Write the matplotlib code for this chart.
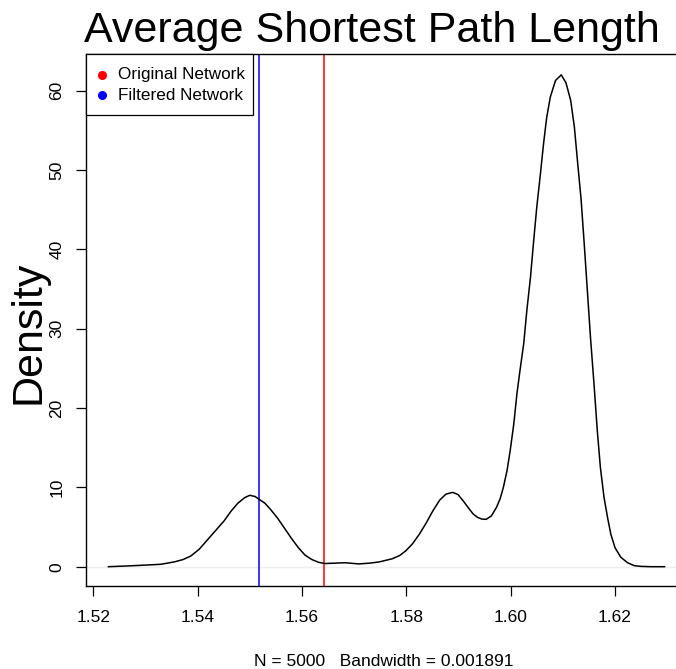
import matplotlib
matplotlib.use('Agg')
import matplotlib.pyplot as plt

plt.rcParams['font.family'] = ['Liberation Sans', 'DejaVu Sans']

# Density estimate (value, density)
path_length = [1.5229, 1.5260, 1.5290, 1.5329, 1.5355, 1.5372, 1.5387, 1.5403,
               1.5419, 1.5435, 1.5451, 1.5464, 1.5477, 1.5490, 1.5500, 1.5510,
               1.5520, 1.5529, 1.5540, 1.5554, 1.5567, 1.5580, 1.5593, 1.5606,
               1.5619, 1.5632, 1.5644, 1.5664, 1.5683, 1.5709, 1.5730, 1.5748,
               1.5773, 1.5787, 1.5799, 1.5812, 1.5825, 1.5838, 1.5851, 1.5864,
               1.5876, 1.5889, 1.5899, 1.5909, 1.5918, 1.5928, 1.5937, 1.5945,
               1.5953, 1.5963, 1.5973, 1.5980, 1.5986, 1.5993, 1.5999, 1.6006,
               1.6012, 1.6018, 1.6025, 1.6031, 1.6038, 1.6044, 1.6050, 1.6057,
               1.6063, 1.6069, 1.6076, 1.6086, 1.6097, 1.6106, 1.6115, 1.6122,
               1.6128, 1.6135, 1.6141, 1.6147, 1.6153, 1.6160, 1.6166, 1.6172,
               1.6179, 1.6186, 1.6192, 1.6200, 1.6211, 1.6224, 1.6237, 1.6250,
               1.6269, 1.6295]
density = [0.0, 0.08, 0.17, 0.3, 0.6, 0.9, 1.35, 2.2,
           3.4, 4.6, 5.8, 7.0, 8.0, 8.7, 9.0, 8.85,
           8.4, 8.0, 7.2, 6.05, 4.8, 3.55, 2.4, 1.45,
           0.9, 0.55, 0.4, 0.45, 0.5, 0.35, 0.45, 0.6,
           1.0, 1.4, 2.0, 2.9, 4.1, 5.5, 7.05, 8.4,
           9.15, 9.37, 9.1, 8.3, 7.5, 6.65, 6.2, 6.0,
           5.97, 6.4, 7.5, 8.6, 10.0, 12.1, 14.6, 18.0,
           21.8, 24.8, 28.1, 32.3, 36.5, 41.0, 45.3, 49.5,
           53.3, 56.6, 59.2, 61.3, 62.0, 61.0, 58.8, 55.5,
           51.2, 46.3, 40.7, 34.8, 28.9, 22.8, 17.2, 12.5,
           8.7, 6.1, 4.1, 2.4, 1.2, 0.5, 0.13, 0.04,
           0.0, 0.0]

original_value = 1.5643
filtered_value = 1.5517

x_ticks = [1.52, 1.54, 1.56, 1.58, 1.60, 1.62]
y_ticks = [0, 10, 20, 30, 40, 50, 60]

W, H = 676, 669
fig = plt.figure(figsize=(W / 100, H / 100), dpi=100)

# plot region in pixels (right edge runs past the image, as in the reference)
left, right, top, bottom = 86, 687, 54, 585.7
ax = fig.add_axes([left / W, 1 - bottom / H, (right - left) / W, (bottom - top) / H])

ax.axhline(0, color='#eeeeee', lw=1, zorder=1)
ax.plot(path_length, density, color='black', lw=1.1, zorder=3)
ax.axvline(original_value, color='#ff0000', lw=1.1, zorder=2)
ax.axvline(filtered_value, color='#0000ff', lw=1.1, zorder=2)

ax.set_xlim(1.5186, 1.6338)
ax.set_ylim(-2.395, 64.63)

ax.set_xticks(x_ticks)
ax.set_xticklabels([f'{t:.2f}' for t in x_ticks])
ax.set_yticks(y_ticks)
ax.set_yticklabels([str(t) for t in y_ticks], rotation=90, va='center')
ax.tick_params(axis='both', direction='out', length=7.5, width=0.9,
               labelsize=12.5)
ax.tick_params(axis='x', pad=10)
ax.tick_params(axis='y', pad=8)
for s in ax.spines.values():
    s.set_linewidth(1.0)

# legend box drawn like R's legend()
leg_box = plt.Rectangle((left / W, 1 - 115 / H), (253 - left) / W, (115 - top) / H,
                        transform=fig.transFigure, facecolor='white',
                        edgecolor='black', lw=0.9, zorder=5)
fig.add_artist(leg_box)
legend_labels = ['Original Network', 'Filtered Network']
legend_colors = ['#ff0000', '#0000ff']
for i, (lab, col) in enumerate(zip(legend_labels, legend_colors)):
    yy = 1 - (75 + 20 * i) / H
    fig.add_artist(plt.Line2D([101.5 / W], [yy], marker='o', color=col,
                              markersize=5.5, transform=fig.transFigure, zorder=6))
    fig.text(118 / W, yy, lab, fontsize=12.3, va='center', ha='left', zorder=6)

fig.text(372 / W, 1 - 42 / H, 'Average Shortest Path Length', fontsize=31,
         ha='center', va='baseline')
fig.text(28 / W, 1 - 332 / H, 'Density', fontsize=31, rotation=90,
         ha='center', va='center')
fig.text(384 / W, 1 - 665.5 / H, 'N = 5000   Bandwidth = 0.001891', fontsize=12.5,
         ha='center', va='baseline')

fig.savefig('out.png', dpi=100)
